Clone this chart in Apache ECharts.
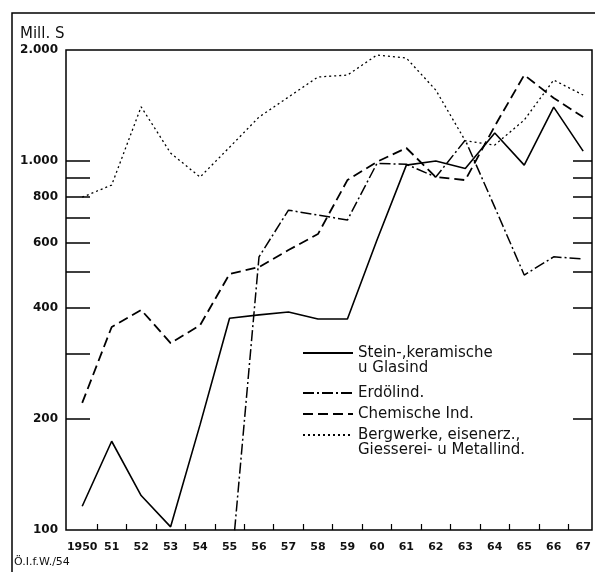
<!DOCTYPE html>
<html>
<head>
<meta charset="utf-8">
<script src="https://cdn.jsdelivr.net/npm/echarts@6/dist/echarts.min.js"></script>
<style>
  html, body { margin: 0; padding: 0; background: #fff; }
  #main { width: 595px; height: 572px; }
</style>
</head>
<body>
<div id="main"></div>
<script>
var chartDom = document.getElementById('main');
var myChart = echarts.init(chartDom);
var option;

// years on the x axis
var years = [1950, 1951, 1952, 1953, 1954, 1955, 1956, 1957, 1958, 1959, 1960, 1961, 1962, 1963, 1964, 1965, 1966, 1967];
// ticks sit between the years
var xTicks = [1950.5, 1951.5, 1952.5, 1953.5, 1954.5, 1955.5, 1956.5, 1957.5, 1958.5, 1959.5, 1960.5, 1961.5, 1962.5, 1963.5, 1964.5, 1965.5, 1966.5];
var yTicks = [200, 300, 400, 500, 600, 700, 800, 900, 1000];
var yLabels = [100, 200, 400, 600, 800, 1000, 2000];

// Mill. S
var steinGlas = [116, 174, 124, 102, 193, 375, 383, 390, 373, 373, 610, 975, 1000, 955, 1191, 975, 1400, 1064];
var erdoel = [null, null, null, null, null, 70, 550, 736, 714, 692, 985, 980, 905, 1140, 750, 491, 550, 543];
var chemie = [221, 355, 395, 321, 359, 494, 516, 574, 634, 888, 995, 1085, 905, 888, 1244, 1711, 1482, 1316];
var bergwerke = [798, 861, 1403, 1051, 905, 1090, 1316, 1491, 1690, 1710, 1938, 1902, 1557, 1135, 1105, 1292, 1658, 1510];

var names = ['Stein-,keramische', 'Erdölind.', 'Chemische Ind.', 'Bergwerke, eisenerz.,'];
var secondLines = ['u Glasind', '', '', 'Giesserei- u Metallind.'];

var FONT = '"DejaVu Sans", sans-serif';

function pairs(vals) {
  return years.map(function (y, i) { return [y, vals[i]]; });
}

function legendFor(i, top) {
  return {
    data: [names[i]],
    left: 297,
    top: top,
    itemWidth: 50,
    itemHeight: 14,
    selectedMode: false,
    itemStyle: { opacity: 0 },
    textStyle: { fontFamily: FONT, fontSize: 15, color: '#111', lineHeight: 18 }
  };
}

function lineSeries(name, vals, type, width) {
  return {
    name: name,
    type: 'line',
    data: pairs(vals),
    symbol: 'none',
    connectNulls: false,
    clip: true,
    lineStyle: { color: '#000', width: width, type: type },
    itemStyle: { color: '#000' },
    z: 3
  };
}

option = {
  animation: false,
  backgroundColor: '#fff',
  grid: {
    left: 66, top: 50, right: 3, bottom: 42,
    show: true, borderColor: '#000', borderWidth: 1.5
  },
  legend: [
    legendFor(0, 339),
    legendFor(1, 379),
    legendFor(2, 400),
    legendFor(3, 421)
  ],
  xAxis: {
    type: 'value',
    min: 1949.45,
    max: 1967.3,
    axisLine: { show: false },
    splitLine: { show: false },
    axisTick: { inside: true, length: 6, customValues: xTicks, lineStyle: { color: '#000', width: 1.2 } },
    axisLabel: {
      customValues: years,
      margin: 12,
      fontFamily: FONT, fontSize: 11, fontWeight: 'bold', color: '#111',
      formatter: function (v) { return v === 1950 ? '1950' : String(v).slice(2); }
    }
  },
  yAxis: [
    {
      type: 'log',
      logBase: 10,
      min: 100,
      max: 2000,
      axisLine: { show: false },
      splitLine: { show: false },
      axisTick: { inside: true, length: 24, customValues: yTicks, lineStyle: { color: '#000', width: 1.5 } },
      axisLabel: {
        customValues: yLabels,
        margin: 8,
        fontFamily: FONT, fontSize: 12, fontWeight: 'bold', color: '#111',
        formatter: function (v) { return v >= 1000 ? (v / 1000) + '.000' : String(v); }
      }
    },
    {
      type: 'log',
      logBase: 10,
      min: 100,
      max: 2000,
      position: 'right',
      axisLine: { show: false },
      splitLine: { show: false },
      axisTick: { inside: true, length: 19, customValues: yTicks, lineStyle: { color: '#000', width: 1.5 } },
      axisLabel: { show: false }
    }
  ],
  graphic: [
    { type: 'polyline', shape: { points: [[12, 572], [12, 13], [595, 13]] }, style: { stroke: '#000', lineWidth: 1.5, fill: null } },
    { type: 'text', x: 20, y: 27, style: { text: 'Mill. S', font: '15px ' + FONT, fill: '#111' } },
    { type: 'text', x: 14, y: 557, style: { text: 'Ö.I.f.W./54', font: '11px ' + FONT, fill: '#111' } },
    { type: 'text', x: 358, y: 361, style: { text: secondLines[0], font: '15px ' + FONT, fill: '#111' } },
    { type: 'text', x: 358, y: 443, style: { text: secondLines[3], font: '15px ' + FONT, fill: '#111' } }
  ],
  series: [
    lineSeries(names[0], steinGlas, 'solid', 1.6),
    lineSeries(names[1], erdoel, [11, 3, 2, 3], 1.5),
    lineSeries(names[2], chemie, [10, 5], 1.8),
    lineSeries(names[3], bergwerke, [2, 3], 1.3)
  ]
};

option && myChart.setOption(option);
</script>
</body>
</html>
